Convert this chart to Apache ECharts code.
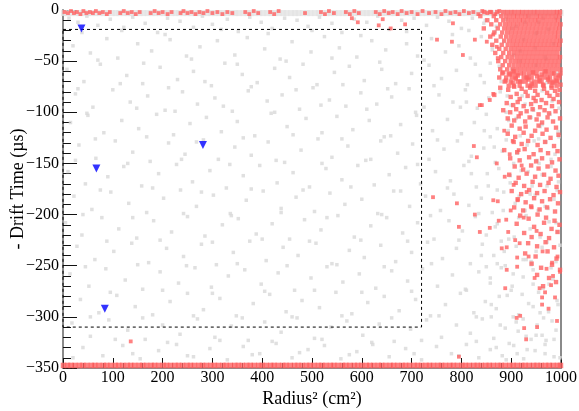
<!DOCTYPE html>
<html><head><meta charset="utf-8">
<script src="https://cdn.jsdelivr.net/npm/echarts@6/dist/echarts.min.js"></script>
<style>html,body{margin:0;padding:0;background:#fff}#c{width:579px;height:411px}</style>
</head><body><div id="c"></div>
<script>
// ---------- data ----------
const xTickValues = [0,100,200,300,400,500,600,700,800,900,1000];
const yTickValues = [-350,-300,-250,-200,-150,-100,-50,0];

const greyScatter = [
[12,-8],[30,-12],[48,-6],[70,-15],[95,-9],[118,-20],[140,-7],[165,-13],[190,-22],[210,-8],[235,-11],[262,-17],[280,-6],[300,-14],[330,-9],[352,-21],[375,-7],[398,-12],[420,-18],[445,-8],[470,-10],[492,-16],[515,-7],[540,-13],[560,-22],[585,-9],[610,-12],[632,-6],[655,-19],[680,-10],[705,-8],[730,-15],[752,-7],[775,-11],[800,-18],[822,-8],[845,-13],[868,-21],[890,-9],[910,-16],[935,-6],[955,-12],[975,-19],[990,-8],
[20,-35],[55,-42],[88,-28],[110,-47],[150,-33],[178,-40],[215,-29],[248,-45],[275,-36],[310,-30],[345,-44],[370,-27],[405,-38],[436,-48],[460,-31],[498,-41],[525,-26],[555,-37],[590,-46],[620,-30],[648,-39],[690,-33],[712,-45],[740,-28],[768,-41],[795,-35],[818,-47],[840,-26],[862,-39],[885,-31],[905,-44],[925,-29],[948,-37],[968,-46],[985,-33],
[8,-58],[42,-70],[75,-53],[128,-64],[160,-72],[195,-56],[230,-68],[262,-60],[298,-74],[325,-52],[360,-63],[390,-71],[425,-57],[455,-66],[482,-53],[510,-73],[545,-61],[575,-55],[605,-69],[640,-58],[668,-72],[700,-62],[735,-54],[760,-67],[790,-59],[812,-73],[838,-64],[858,-52],[880,-70],[902,-58],[930,-66],[950,-54],[972,-71],[992,-62],
[25,-82],[60,-95],[100,-78],[135,-90],[170,-84],[205,-98],[240,-80],[270,-92],[305,-86],[340,-99],[372,-79],[410,-89],[440,-83],[475,-97],[502,-76],[535,-88],[568,-94],[598,-81],[630,-92],[660,-85],[695,-77],[725,-95],[755,-83],[783,-90],[808,-78],[832,-96],[855,-86],[878,-80],[900,-93],[922,-84],[945,-98],[962,-79],[982,-89],[996,-96],
[15,-110],[50,-103],[82,-120],[118,-108],[152,-116],[188,-102],[222,-122],[255,-111],[288,-105],[318,-119],[350,-109],[385,-123],[418,-101],[450,-114],[488,-106],[520,-120],[550,-104],[582,-117],[615,-108],[645,-124],[678,-112],[710,-103],[742,-118],[772,-107],[800,-121],[826,-110],[850,-102],[872,-116],[895,-108],[918,-123],[940,-105],[958,-114],[978,-102],[994,-119],
[32,-132],[66,-145],[105,-128],[140,-139],[175,-148],[212,-130],[245,-141],[282,-127],[312,-146],[345,-134],[378,-142],[412,-129],[445,-149],[478,-137],[512,-126],[540,-144],[572,-133],[608,-147],[638,-128],[672,-140],[702,-131],[735,-146],[765,-136],[792,-128],[820,-143],[845,-135],[868,-149],[890,-127],[912,-140],[932,-132],[952,-147],[970,-129],[988,-141],
[10,-158],[45,-170],[90,-163],[122,-153],[158,-172],[192,-160],[228,-151],[260,-168],[295,-157],[328,-174],[362,-162],[395,-152],[430,-169],[462,-159],[495,-173],[528,-155],[560,-166],[592,-152],[625,-171],[655,-161],[688,-154],[718,-170],[748,-158],[778,-167],[805,-152],[830,-173],[852,-160],[875,-155],[898,-169],[920,-157],[942,-172],[962,-161],[980,-153],[995,-168],
[22,-182],[58,-195],[96,-178],[132,-189],[168,-198],[202,-184],[236,-176],[268,-192],[302,-181],[336,-199],[368,-186],[402,-177],[438,-194],[468,-183],[505,-197],[536,-179],[566,-190],[600,-185],[632,-199],[664,-177],[696,-192],[728,-182],[758,-196],[785,-180],[815,-191],[840,-184],[862,-198],[885,-178],[908,-189],[928,-196],[948,-181],[968,-192],[986,-185],
[5,-208],[38,-220],[78,-203],[112,-214],[148,-223],[182,-206],[218,-217],[250,-202],[285,-221],[320,-210],[352,-204],[388,-219],[420,-209],[455,-224],[485,-205],[518,-215],[552,-201],[585,-222],[618,-211],[650,-203],[682,-218],[712,-208],[745,-224],[775,-206],[802,-216],[828,-202],[850,-220],[872,-209],[895,-224],[915,-203],[938,-214],[958,-222],[976,-207],[993,-217],
[28,-231],[64,-244],[102,-236],[138,-228],[172,-247],[208,-233],[242,-241],[278,-229],[308,-249],[342,-237],[375,-226],[408,-245],[442,-232],[472,-240],[508,-228],[540,-248],[575,-235],[605,-242],[638,-230],[668,-246],[700,-237],[732,-227],[762,-243],[790,-233],[818,-248],[842,-229],[865,-240],[888,-250],[910,-231],[930,-244],[950,-236],[972,-227],[990,-246],
[14,-258],[52,-270],[86,-253],[125,-264],[160,-273],[195,-256],[232,-267],[265,-252],[298,-271],[332,-260],[365,-254],[398,-268],[432,-257],[465,-274],[498,-262],[530,-251],[562,-266],[595,-258],[628,-272],[660,-255],[692,-265],[722,-253],[752,-270],[782,-259],[810,-274],[835,-256],[858,-267],[880,-252],[902,-270],[924,-261],[944,-254],[964,-272],[984,-263],
[35,-283],[72,-296],[108,-279],[145,-290],[180,-298],[215,-285],[250,-277],[282,-293],[315,-282],[348,-299],[382,-287],[415,-278],[448,-295],[480,-284],[515,-291],[548,-276],[580,-297],[612,-286],[645,-280],[675,-294],[708,-283],[738,-299],[768,-288],[798,-277],[825,-296],[848,-285],[870,-292],[892,-279],[915,-298],[935,-287],[955,-276],[975,-295],[992,-284],
[18,-306],[55,-319],[92,-303],[130,-313],[165,-322],[200,-308],[235,-317],[270,-302],[305,-320],[338,-309],[372,-323],[405,-305],[438,-315],[470,-301],[505,-321],[538,-310],[570,-304],[602,-318],[635,-307],[665,-324],[698,-312],[730,-303],[760,-320],[790,-308],[818,-316],[842,-302],[865,-321],[888,-311],[910,-305],[930,-319],[952,-308],[970,-323],[990,-313],
[40,-330],[80,-338],[120,-328],[155,-341],[192,-333],[228,-327],[262,-339],[295,-331],[330,-342],[362,-329],[395,-336],[428,-326],[460,-340],[492,-332],[525,-328],[558,-341],[590,-334],[622,-327],[655,-339],[688,-331],[720,-342],[750,-329],[780,-336],[810,-327],[835,-340],[858,-332],[882,-338],[905,-328],[925,-341],[948,-333],[968,-327],[986,-339]
];

const greyScatter2 = [
[38,-22],[122,-17],[205,-24],[318,-19],[412,-23],[500,-20],[598,-25],[690,-21],[782,-24],[870,-16],[950,-23],
[70,-49],[162,-52],[258,-48],[350,-53],[448,-50],[540,-47],[636,-51],[725,-49],[828,-53],[918,-50],
[30,-77],[115,-72],[212,-76],[285,-70],[378,-75],[468,-78],[562,-73],[652,-77],[745,-74],[846,-71],[938,-75],
[48,-101],[148,-96],[225,-99],[322,-94],[425,-100],[518,-93],[610,-97],[708,-100],[798,-95],[890,-100],
[65,-126],[168,-124],[268,-129],[362,-125],[462,-122],[560,-126],[658,-123],[752,-127],[858,-124],[955,-126],
[25,-147],[130,-150],[238,-146],[335,-151],[428,-147],[520,-150],[618,-146],[712,-151],[815,-148],[905,-150],
[75,-176],[180,-174],[278,-178],[378,-175],[482,-176],[578,-173],[678,-177],[772,-174],[872,-176],
[40,-200],[140,-203],[242,-199],[338,-201],[438,-198],[530,-203],[640,-200],[738,-201],[835,-199],[930,-201],
[88,-226],[195,-225],[300,-227],[400,-224],[495,-226],[598,-225],[692,-226],[795,-225],[880,-226],
[45,-251],[150,-249],[248,-250],[350,-248],[450,-250],[550,-249],[645,-251],[740,-248],[850,-251],[940,-249],
[95,-276],[200,-274],[300,-277],[405,-275],[505,-274],[600,-276],[700,-275],[808,-273],[900,-274],
[55,-300],[160,-301],[262,-299],[360,-301],[460,-300],[560,-299],[660,-301],[755,-299],[860,-300],[965,-301],
[105,-322],[210,-325],[315,-323],[420,-324],[520,-322],[620,-325],[720,-323],[830,-324],[940,-322],
[20,-340],[140,-336],[250,-338],[380,-337],[475,-335],[575,-337],[705,-336],[795,-338],[912,-336]
];

const greyRight = [
[902,-18],[918,-40],[936,-64],[952,-22],[970,-48],[988,-72],[876,-55],[892,-84],[910,-106],[928,-92],[946,-128],[962,-112],[980,-146],[996,-124],[882,-138],[898,-162],[916,-182],[934,-158],[954,-196],[972,-172],[990,-208],[868,-212],[886,-236],[904,-258],[922,-278],[940,-246],[958,-296],[976,-268],[994,-288],[860,-288],[878,-308],[896,-326],[914,-314],[932,-332],[950,-318],[968,-336],[986,-322],[872,-248],[854,-172],[846,-118],[862,-36],[848,-10],[928,-12],[964,-8],[884,-196],[906,-222],[924,-244],[944,-268],[962,-232],[980,-252],[998,-230],[866,-134],[894,-118],[912,-140],[938,-180],[956,-150],[974,-194],[992,-176],[858,-262],[876,-280],[904,-300],[924,-302],[944,-290],[962,-318],[982,-304],[998,-340],[870,-330],[890,-342],[840,-240],[830,-300],[820,-160],[810,-90],[815,-20]
];

const greyTopBandX = [2,9,17,26,33,41,50,58,65,74,82,89,98,106,113,122,130,137,146,154,161,170,178,185,194,202,209,218,226,233,242,250,257,266,274,281,290,298,305,314,322,329,338,346,353,362,370,377,386,394,401,410,418,425,434,442,449,458,466,473,482,490,497,506,514,521,530,538,545,554,562,569,578,586,593,602,610,617,626,634,641,650,658,665,674,682,689,698,706,713,722,730,737,746,754,761,770,778,785,794,802,809,818,826,833,842,850,857,866,874,881,890,898,905,914,922,929,938,946,953,962,970,977,986,994,999];
const greyTopBandY = -3;

const redTop = [
[3,-2],[10,-3],[16,-1],[22,-3],[28,-2],[35,-4],[41,-1],[47,-3],[54,-2],[60,-3],[66,-1],[73,-3],[80,-2],[88,-4],[94,-2],[115,-3],[122,-1],[130,-3],[138,-2],[146,-4],[154,-2],[176,-3],[184,-1],[192,-3],[200,-2],[210,-4],[218,-2],[236,-3],[242,-1],[250,-3],[258,-2],[266,-4],[274,-2],[282,-3],[290,-1],[300,-3],[310,-2],[320,-4],[330,-2],[340,-3],[366,-2],[374,-4],[383,-1],[392,-3],[416,-2],[424,-4],[433,-1],[486,-3],[518,-2],[526,-4],[534,-1],[544,-3],[568,-2],[576,-4],[585,-1],[594,-3],[628,-2],[636,-4],[645,-1],[654,-3],[662,-2],[672,-4],[680,-1],[690,-3],[700,-2],[712,-4],[722,-1],[735,-3],[748,-2],[760,-4],[768,-1],[778,-3],[788,-2],[796,-4],[805,-1],[815,-3],[824,-2],[834,-4],[842,-1],[852,-3],[860,-2],[868,-4],[876,-1]
];

const redScatter = [
[580,-8],[592,-12],[634,-15],[642,-9],[658,-18],[687,-14],[751,-29],[781,-31],[783,-13],[803,-44],[827,-29],[837,-93],[857,-88],[864,-82],[851,-31],[871,-36],[873,-47],[864,-24],[841,-93],[825,-133],[831,-144],[871,-150],[743,-183],[791,-189],[827,-200],[795,-212],[837,-217],[857,-213],[864,-186],[873,-187],[875,-206],[890,-205],[881,-233],[891,-232],[894,-217],[908,-225],[912,-242],[891,-254],[912,-251],[888,-272],[918,-299],[911,-301],[926,-311],[930,-322],[952,-310],[962,-288],[962,-281],[968,-276],[980,-269],[984,-260],[992,-304],[998,-256],[982,-247],[795,-339],[136,-324],
[886,-118],[903,-128],[897,-141],[915,-137],[921,-152],[887,-163],[905,-171],[931,-178],[913,-186],[941,-193],[899,-196],[925,-203],[951,-216],[917,-228],[935,-241],[963,-236],[947,-262],[971,-253],[993,-241],[957,-272],[988,-281],[975,-292]
];

const redSolidRows = [
[-2,[846,858,872,884,892,900,907,915,922,930,938,946,953,961,969,977,985,992,998]],
[-6,[838,865,880,889,897,905,912,920,928,935,943,951,958,966,974,982,990,997]],
[-10,[852,870,884,893,901,909,917,924,932,940,948,955,963,971,979,987,994]],
[-14,[860,878,888,896,904,912,920,928,936,944,952,960,968,976,984,992,999]],
[-18,[845,873,886,894,902,910,918,926,934,942,950,958,966,974,982,990,997]],
[-22,[866,882,892,900,908,916,924,932,940,948,956,964,972,980,988,995]],
[-26,[858,879,890,899,907,915,923,931,939,947,955,963,971,979,987,994]],
[-30,[870,886,896,904,912,920,928,936,944,952,960,968,976,984,992,999]],
[-34,[862,881,893,902,910,918,926,934,942,950,958,966,974,982,990,997]],
[-38,[876,889,899,907,915,923,931,939,947,955,963,971,979,987,995]],
[-42,[868,884,896,905,913,921,929,937,945,953,961,969,977,985,993]],
[-46,[880,893,902,911,919,927,935,943,951,959,967,975,983,991,998]],
[-50,[874,888,899,908,916,924,932,940,948,956,964,972,980,988,996]],
[-54,[883,896,905,914,922,930,938,946,954,962,970,978,986,994]],
[-58,[878,892,903,911,919,927,935,943,951,959,967,975,983,991,999]],
[-62,[882,895,903,911,919,935,943,951,967,975,983,999]],
[-66,[876,890,901,909,925,933,941,957,965,973,989,997]],
[-70,[887,899,913,921,929,945,953,961,977,985,993]],
[-74,[895,905,917,933,941,949,965,981,991]]
];

const redMid = [
[884,-61],[897,-63],[905,-60],[913,-64],[926,-62],[931,-66],[944,-61],[952,-65],[961,-63],[969,-60],[978,-66],[986,-62],[995,-64],
[889,-69],[903,-71],[909,-67],[918,-70],[935,-68],[941,-72],[957,-69],[964,-73],[974,-68],[983,-71],[991,-69],[999,-73],
[878,-76],[894,-78],[906,-75],[921,-77],[929,-80],[938,-76],[948,-79],[966,-77],[972,-81],[981,-76],[988,-79],[997,-78],
[866,-83],[899,-85],[911,-82],[917,-87],[933,-84],[945,-86],[953,-83],[961,-88],[977,-84],[985,-87],[993,-83],
[891,-91],[904,-93],[913,-90],[925,-94],[940,-92],[949,-89],[958,-95],[970,-91],[982,-94],[996,-90],
[884,-98],[898,-100],[910,-97],[919,-101],[931,-99],[943,-97],[955,-102],[967,-98],[976,-101],[989,-99],
[893,-106],[906,-108],[915,-104],[928,-109],[937,-105],[951,-107],[962,-110],[973,-105],[984,-109],[998,-106],
[901,-113],[917,-116],[929,-114],[948,-118],[955,-113],[971,-117],[990,-115],
[893,-121],[908,-124],[925,-120],[941,-123],[963,-121],[979,-125],[995,-122],
[905,-129],[921,-131],[934,-128],[953,-132],[968,-129],[986,-133],
[886,-137],[912,-139],[927,-136],[945,-141],[959,-137],[974,-140],[993,-138],
[898,-145],[917,-147],[936,-144],[950,-148],[962,-145],[982,-149],[997,-146],
[907,-153],[924,-156],[940,-152],[955,-155],[973,-153],[989,-157],
[896,-161],[915,-164],[931,-160],[948,-163],[966,-161],[979,-165],[995,-162],
[909,-169],[926,-172],[943,-168],[958,-171],[975,-169],[991,-173],
[901,-177],[920,-180],[936,-176],[952,-179],[967,-177],[985,-181],[998,-178],
[913,-185],[929,-188],[946,-184],[962,-187],[978,-185],[994,-189],
[906,-193],[924,-196],[940,-192],[957,-195],[972,-193],[988,-197],
[918,-201],[935,-204],[953,-200],[970,-203],[987,-206],
[911,-209],[946,-212],[966,-208],[981,-214],[997,-210],
[926,-218],[941,-222],[959,-219],[976,-223],[993,-217],
[934,-228],[952,-231],[969,-227],[986,-232],
[928,-238],[949,-241],[973,-236],[991,-243],
[941,-248],[960,-252],[982,-249],[998,-254],
[952,-259],[976,-262],[990,-266],[964,-270]
];

const redBottomX = [1,9,16,24,33,40,48,57,64,72,81,88,96,105,112,120,129,136,144,153,160,168,177,184,192,201,208,216,225,232,240,249,256,264,273,280,288,297,304,312,321,328,336,345,352,360,369,376,384,393,400,408,417,424,432,441,448,456,465,472,480,489,496,504,513,520,528,537,544,552,561,568,576,585,592,600,609,616,624,633,640,648,657,664,672,681,688,696,705,712,720,729,736,744,753,760,768,777,784,792,801,808,816,825,832,840,849,856,864,873,880,888,897,904,912,921,928,936,945,952,960,969,976,984,993,999];
const redBottomY = -347.5;

const blueMarkers = [[37,-18],[67,-155],[281,-132],[84,-292]];
const fiducialBox = [[0,-19],[720,-19],[720,-310],[0,-310],[0,-19]];

// ---------- chart ----------
const FONT = 'Liberation Serif';
const RED = '#ff6262';
const GREY = '#d8d8d8';
const minus = v => String(v).replace('-', '\u2212');

const redSolid = redSolidRows.flatMap(([y, xs]) => xs.map(x => [x, y]));
const redBottom = redBottomX.map(x => [x, redBottomY]);
const greyTopBand = greyTopBandX.map(x => [x, greyTopBandY]);

const chart = echarts.init(document.getElementById('c'), null, {renderer: 'canvas'});
const scatterBase = {type: 'scatter', symbol: 'rect', silent: true, clip: false};
chart.setOption({
  animation: false,
  backgroundColor: '#fff',
  grid: {left: 63, right: 18, top: 10, bottom: 43, containLabel: false, outerBoundsMode: 'none'},
  xAxis: [{
    type: 'value', min: 0, max: 1000, interval: 100, position: 'bottom',
    axisLine: {show: true, onZero: false, lineStyle: {color: '#8a8a8a', width: 2}},
    axisTick: {show: true, inside: true, length: 10, lineStyle: {color: '#111', width: 1}},
    minorTick: {show: true, splitNumber: 5, length: 5, lineStyle: {color: '#111', width: 1}},
    splitLine: {show: false},
    axisLabel: {fontFamily: FONT, fontSize: 16, color: '#000', margin: 2, formatter: v => String(v)},
    name: 'Radius\u00B2 (cm\u00B2)', nameLocation: 'middle', nameGap: 22, nameMoveOverlap: false,
    nameTextStyle: {fontFamily: FONT, fontSize: 18, color: '#000'}
  }],
  yAxis: [{
    type: 'value', min: -350, max: 0, interval: 50,
    axisLine: {show: true, onZero: false, lineStyle: {color: '#8a8a8a', width: 2}},
    axisTick: {show: true, inside: true, length: 14, lineStyle: {color: '#111', width: 1}},
    minorTick: {show: true, splitNumber: 5, length: 8, lineStyle: {color: '#111', width: 1}},
    splitLine: {show: false},
    axisLabel: {fontFamily: FONT, fontSize: 16, color: '#000', margin: 4, formatter: minus},
    name: '- Drift Time (\u00B5s)', nameLocation: 'middle', nameGap: 36, nameRotate: 90, nameMoveOverlap: false,
    nameTextStyle: {fontFamily: FONT, fontSize: 18, color: '#000'}
  }, {
    type: 'value', min: -350, max: 0, interval: 50, position: 'right',
    axisLine: {show: true, onZero: false, lineStyle: {color: '#8a8a8a', width: 2}},
    axisTick: {show: false}, axisLabel: {show: false}, splitLine: {show: false}
  }],
  series: [
    Object.assign({}, scatterBase, {name: 'greyTop', data: greyTopBand, symbolSize: 6, itemStyle: {color: '#e4e4e4'}}),
    Object.assign({}, scatterBase, {name: 'grey', data: greyScatter, symbolSize: 3.5, itemStyle: {color: GREY}}),
    Object.assign({}, scatterBase, {name: 'grey2', data: greyScatter2, symbolSize: 3.5, itemStyle: {color: GREY}}),
    Object.assign({}, scatterBase, {name: 'greyRight', data: greyRight, symbolSize: 3.5, itemStyle: {color: GREY}}),
    Object.assign({}, scatterBase, {name: 'redSolid', data: redSolid, symbolSize: 4.4, itemStyle: {color: RED}}),
    Object.assign({}, scatterBase, {name: 'redMid', data: redMid, symbolSize: 4.4, itemStyle: {color: RED}}),
    Object.assign({}, scatterBase, {name: 'redTop', data: redTop, symbolSize: 3.8, itemStyle: {color: RED}}),
    Object.assign({}, scatterBase, {name: 'redScatter', data: redScatter, symbolSize: 3.8, itemStyle: {color: RED}}),
    Object.assign({}, scatterBase, {name: 'redBottom', data: redBottom, symbolSize: 5.5, itemStyle: {color: RED}}),
    {type: 'line', name: 'box', data: fiducialBox, symbol: 'none', silent: true,
     lineStyle: {color: '#000', width: 1, type: [3, 3]}, z: 5},
    {type: 'scatter', name: 'blue', data: blueMarkers, symbol: 'triangle', symbolRotate: 180,
     symbolSize: 8, itemStyle: {color: '#0000ff'}, z: 6}
  ]
});
</script>
</body></html>
